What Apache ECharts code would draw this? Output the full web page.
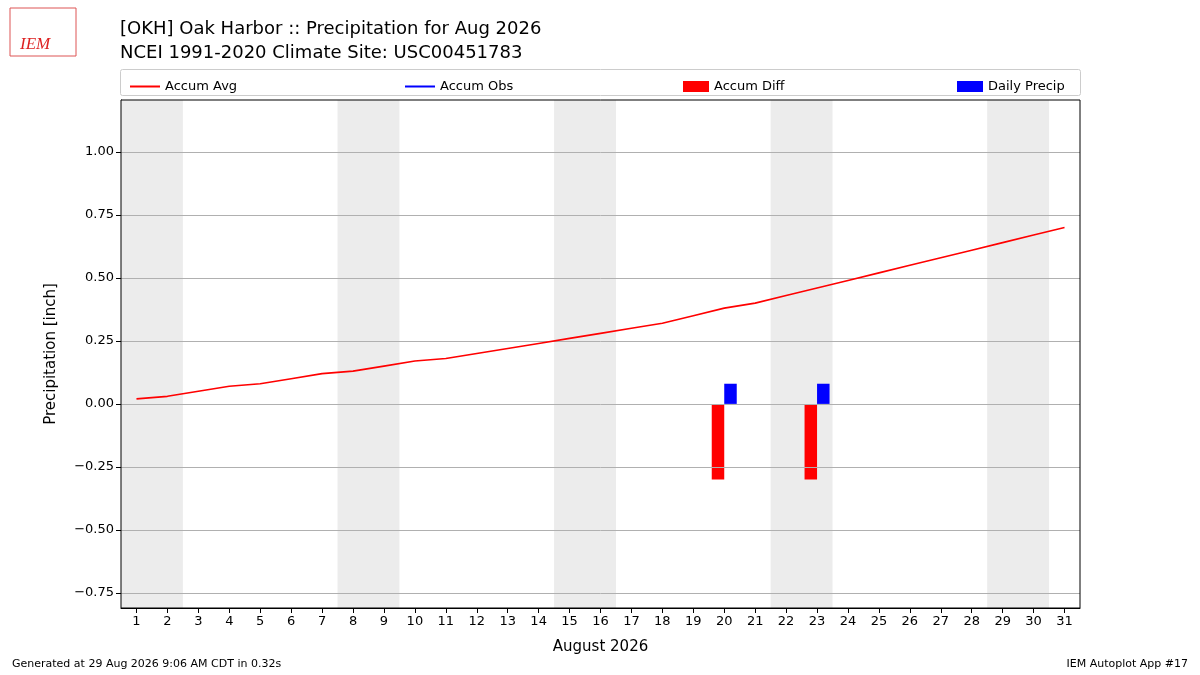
<!DOCTYPE html>
<html><head><meta charset="utf-8">
<script src="https://cdn.jsdelivr.net/npm/echarts@6/dist/echarts.min.js"></script>
<style>html,body{margin:0;padding:0;background:#fff}#c{width:1200px;height:675px}</style>
</head><body><div id="c"></div>
<script>
const days = Array.from({length:31},(_,i)=>i+1);
const accumAvg = [0.02,0.03,0.05,0.07,0.08,0.10,0.12,0.13,0.15,0.17,0.18,0.20,0.22,0.24,0.26,0.28,0.30,0.32,0.35,0.38,0.40,0.43,0.46,0.49,0.52,0.55,0.58,0.61,0.64,0.67,0.70];
const accumObs = [];
const diffDays = [20,23];
const diffVals = [-0.30,-0.30];
const precipDays = [20,23];
const precipVals = [0.08,0.08];
const yTicks = [-0.75,-0.5,-0.25,0,0.25,0.5,0.75,1.0];
const weekends = [[0.5,2.5],[7.5,9.5],[14.5,16.5],[21.5,23.5],[28.5,30.5]];

const fmt = v => (v<0?'\u2212':'')+Math.abs(v).toFixed(2);
const font = 'DejaVu Sans';
const chart = echarts.init(document.getElementById('c'));
const legendPos = [125,400,678,952];
const names = ['Accum Avg','Accum Obs','Accum Diff','Daily Precip'];
const icons = ['path://M0,0L30,0L30,2L0,2Z','path://M0,0L30,0L30,2L0,2Z','rect','rect'];
chart.setOption({
  animation:false,
  textStyle:{fontFamily:font},
  grid:{left:121,right:120,top:100,bottom:67},
  title:[
    {text:'[OKH] Oak Harbor :: Precipitation for Aug 2026\nNCEI 1991-2020 Climate Site: USC00451783',left:115,top:12,textStyle:{fontSize:18,fontWeight:'normal',color:'#000',lineHeight:24,fontFamily:font}},
  ],
  graphic:[
    {type:'rect',shape:{x:120.5,y:69.5,width:960,height:26,r:2},style:{fill:'#fff',stroke:'#ccc',lineWidth:1},z:-1},
    {type:'rect',shape:{x:121,y:100,width:959,height:508},style:{fill:'none',stroke:'#000',lineWidth:1},z:100,silent:true},
    {type:'text',left:12,top:659,style:{text:'Generated at 29 Aug 2026 9:06 AM CDT in 0.32s',fontSize:11,fontFamily:font,fill:'#000'}},
    {type:'text',right:12,top:659,style:{text:'IEM Autoplot App #17',fontSize:11,fontFamily:font,fill:'#000'}},
    {type:'text',left:20,top:36,style:{text:'IEM',fontSize:17,fontStyle:'italic',fontFamily:'Liberation Serif',fill:'#d22'}},
    {type:'rect',shape:{x:10,y:8,width:66,height:48},style:{fill:'none',stroke:'#d55',lineWidth:1}}
  ],
  legend: names.map((n,i)=>({data:[n],left:legendPos[i],top:75,itemWidth:i<2?30:26,itemHeight:i<2?2:11,itemGap:10,icon:icons[i],textStyle:{fontSize:13,color:'#000',fontFamily:font}})),
  xAxis:{type:'value',min:0.5,max:31.5,
    name:'August 2026',nameLocation:'middle',nameGap:32,nameTextStyle:{fontSize:15,color:'#000'},
    axisLine:{show:true,onZero:false,lineStyle:{color:'#000'}},splitLine:{show:false},
    axisTick:{customValues:days,length:5,lineStyle:{color:'#000'}},
    axisLabel:{customValues:days,fontSize:13,color:'#000',margin:7}},
  yAxis:{type:'value',min:-0.81,max:1.206,
    name:'Precipitation [inch]',nameLocation:'middle',nameGap:62,nameTextStyle:{fontSize:15,color:'#000'},
    axisLine:{show:true,lineStyle:{color:'#000'}},splitLine:{show:false},
    axisTick:{show:true,inside:false,customValues:yTicks,length:5,lineStyle:{color:'#000'}},
    axisLabel:{customValues:yTicks,fontSize:13,color:'#000',formatter:fmt,margin:7}},
  series:[
    {type:'line',name:'_bg',data:[],silent:true,
      markArea:{silent:true,itemStyle:{color:'#ececec'},data:weekends.map(w=>[{xAxis:w[0]},{xAxis:w[1]}])},
      markLine:{silent:true,symbol:'none',label:{show:false},lineStyle:{color:'#b0b0b0',type:'solid',width:1},data:yTicks.map(v=>({yAxis:v}))}},
    {type:'line',name:'Accum Avg',data:days.map((d,i)=>[d,accumAvg[i]]),symbol:'none',lineStyle:{color:'#ff0000',width:1.6},itemStyle:{color:'#ff0000'},z:5},
    {type:'line',name:'Accum Obs',data:accumObs,symbol:'none',lineStyle:{color:'#0000ff',width:1.6},itemStyle:{color:'#0000ff'}},
    {type:'bar',name:'Accum Diff',data:diffDays.map((d,i)=>[d,diffVals[i]]),barWidth:12.5,barGap:'0%',itemStyle:{color:'#ff0000'}},
    {type:'bar',name:'Daily Precip',data:precipDays.map((d,i)=>[d,precipVals[i]]),barWidth:12.5,barGap:'0%',itemStyle:{color:'#0000ff'}}
  ]
});
</script></body></html>
